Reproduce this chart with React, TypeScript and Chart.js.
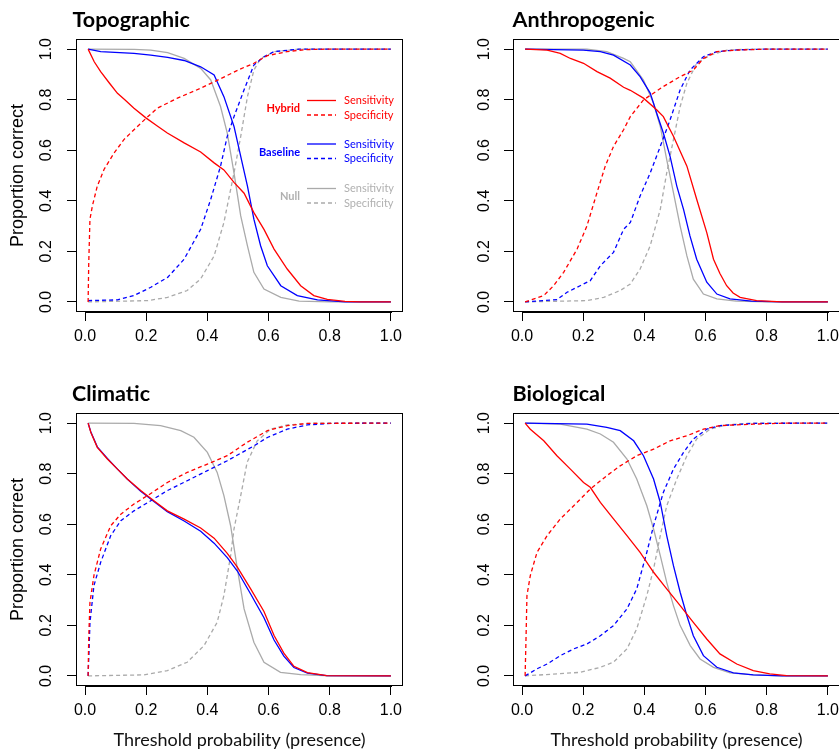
import React, { useEffect, useRef } from "react";
import { Chart, registerables } from "chart.js";

Chart.register(...registerables);

type Pt = [number, number];

// ---------- Text / ticks ----------
const PANEL_TITLES = ["Topographic", "Anthropogenic", "Climatic", "Biological"];
const X_TITLE = "Threshold probability (presence)";
const Y_TITLE = "Proportion correct";
const X_TICKS = [0, 0.2, 0.4, 0.6, 0.8, 1.0];
const Y_TICKS = [0, 0.2, 0.4, 0.6, 0.8, 1.0];
const MODEL_NAMES = ["Hybrid", "Baseline", "Null"];
const MEASURE_NAMES = ["Sensitivity", "Specificity"];

// ---------- Data: [threshold, proportion correct] ----------
const topoHybridSens: Pt[] = [[0.01,1.0],[0.03,0.95],[0.051,0.911],[0.08,0.865],[0.106,0.825],[0.13,0.8],[0.16,0.766],[0.2,0.727],[0.235,0.697],[0.269,0.668],[0.324,0.629],[0.378,0.593],[0.422,0.55],[0.454,0.522],[0.487,0.473],[0.52,0.43],[0.552,0.353],[0.585,0.287],[0.618,0.209],[0.661,0.13],[0.705,0.064],[0.748,0.025],[0.792,0.01],[0.85,0.002],[0.9,0.0],[1.0,0.0]];
const topoHybridSpec: Pt[] = [[0.01,0.0],[0.012,0.15],[0.016,0.327],[0.024,0.38],[0.04,0.458],[0.062,0.524],[0.095,0.589],[0.127,0.642],[0.16,0.681],[0.2,0.727],[0.236,0.766],[0.302,0.806],[0.378,0.845],[0.443,0.883],[0.509,0.922],[0.552,0.944],[0.596,0.974],[0.66,0.99],[0.72,0.998],[0.8,1.0],[1.0,1.0]];
const topoBaselineSens: Pt[] = [[0.01,1.0],[0.051,0.99],[0.16,0.983],[0.215,0.976],[0.27,0.967],[0.324,0.955],[0.378,0.93],[0.422,0.898],[0.454,0.812],[0.487,0.694],[0.509,0.576],[0.531,0.458],[0.552,0.327],[0.574,0.222],[0.596,0.143],[0.64,0.064],[0.694,0.025],[0.76,0.008],[0.85,0.0],[1.0,0.0]];
const topoBaselineSpec: Pt[] = [[0.01,0.005],[0.106,0.008],[0.16,0.025],[0.215,0.058],[0.27,0.097],[0.324,0.169],[0.378,0.287],[0.411,0.406],[0.443,0.537],[0.465,0.655],[0.487,0.733],[0.52,0.839],[0.552,0.937],[0.585,0.97],[0.618,0.99],[0.7,1.0],[1.0,1.0]];
const topoNullSens: Pt[] = [[0.01,1.0],[0.16,0.999],[0.215,0.996],[0.27,0.986],[0.324,0.963],[0.378,0.924],[0.411,0.878],[0.443,0.773],[0.465,0.668],[0.487,0.51],[0.509,0.34],[0.531,0.222],[0.552,0.117],[0.585,0.051],[0.64,0.018],[0.7,0.003],[0.8,0.0],[1.0,0.0]];
const topoNullSpec: Pt[] = [[0.01,0.0],[0.204,0.005],[0.27,0.018],[0.334,0.045],[0.378,0.091],[0.422,0.182],[0.454,0.314],[0.487,0.51],[0.509,0.655],[0.531,0.812],[0.552,0.917],[0.574,0.963],[0.62,0.99],[0.7,1.0],[1.0,1.0]];

const anthroHybridSens: Pt[] = [[0.01,1.0],[0.082,0.996],[0.125,0.983],[0.158,0.963],[0.201,0.944],[0.245,0.911],[0.288,0.885],[0.332,0.849],[0.354,0.837],[0.397,0.806],[0.44,0.76],[0.462,0.733],[0.495,0.655],[0.539,0.537],[0.571,0.406],[0.604,0.274],[0.626,0.169],[0.647,0.112],[0.669,0.064],[0.69,0.035],[0.713,0.018],[0.767,0.005],[0.85,0.0],[1.0,0.0]];
const anthroHybridSpec: Pt[] = [[0.01,0.0],[0.071,0.025],[0.103,0.064],[0.136,0.117],[0.18,0.209],[0.212,0.3],[0.245,0.432],[0.272,0.537],[0.299,0.615],[0.332,0.681],[0.354,0.733],[0.397,0.799],[0.462,0.852],[0.517,0.891],[0.56,0.917],[0.593,0.963],[0.637,0.99],[0.702,0.996],[0.8,1.0],[1.0,1.0]];
const anthroBaselineSens: Pt[] = [[0.01,1.0],[0.2,0.996],[0.256,0.99],[0.299,0.976],[0.354,0.937],[0.386,0.891],[0.419,0.826],[0.44,0.747],[0.462,0.668],[0.484,0.576],[0.506,0.458],[0.528,0.366],[0.549,0.261],[0.571,0.169],[0.604,0.078],[0.637,0.031],[0.68,0.012],[0.75,0.003],[0.85,0.0],[1.0,0.0]];
const anthroBaselineSpec: Pt[] = [[0.01,0.0],[0.114,0.009],[0.147,0.038],[0.19,0.064],[0.223,0.084],[0.256,0.143],[0.299,0.196],[0.332,0.287],[0.354,0.314],[0.386,0.419],[0.419,0.51],[0.452,0.615],[0.484,0.72],[0.517,0.839],[0.549,0.917],[0.593,0.97],[0.637,0.99],[0.702,0.997],[0.8,1.0],[1.0,1.0]];
const anthroNullSens: Pt[] = [[0.01,1.0],[0.212,1.0],[0.277,0.99],[0.332,0.963],[0.354,0.95],[0.397,0.878],[0.43,0.786],[0.452,0.694],[0.473,0.563],[0.495,0.432],[0.517,0.3],[0.539,0.182],[0.56,0.09],[0.593,0.031],[0.637,0.012],[0.7,0.003],[0.8,0.0],[1.0,0.0]];
const anthroNullSpec: Pt[] = [[0.01,0.0],[0.212,0.005],[0.267,0.018],[0.321,0.045],[0.354,0.071],[0.386,0.13],[0.419,0.222],[0.452,0.366],[0.473,0.51],[0.495,0.642],[0.517,0.773],[0.539,0.865],[0.571,0.944],[0.615,0.976],[0.669,0.996],[0.75,1.0],[1.0,1.0]];

const climHybridSens: Pt[] = [[0.01,1.0],[0.019,0.963],[0.04,0.904],[0.073,0.858],[0.106,0.818],[0.138,0.779],[0.182,0.733],[0.225,0.693],[0.269,0.653],[0.324,0.62],[0.378,0.585],[0.422,0.545],[0.465,0.485],[0.498,0.43],[0.541,0.345],[0.585,0.255],[0.618,0.16],[0.65,0.09],[0.683,0.038],[0.727,0.013],[0.79,0.001],[1.0,0.0]];
const climHybridSpec: Pt[] = [[0.01,0.0],[0.012,0.15],[0.016,0.29],[0.029,0.397],[0.051,0.502],[0.084,0.594],[0.117,0.64],[0.16,0.68],[0.204,0.713],[0.269,0.765],[0.334,0.805],[0.4,0.838],[0.465,0.871],[0.53,0.924],[0.596,0.97],[0.661,0.99],[0.727,0.999],[1.0,1.0]];
const climBaselineSens: Pt[] = [[0.01,1.0],[0.019,0.965],[0.04,0.906],[0.073,0.86],[0.106,0.818],[0.138,0.779],[0.182,0.73],[0.225,0.69],[0.269,0.65],[0.324,0.613],[0.378,0.572],[0.422,0.525],[0.465,0.468],[0.498,0.415],[0.541,0.325],[0.585,0.23],[0.618,0.142],[0.65,0.078],[0.683,0.033],[0.727,0.011],[0.79,0.001],[1.0,0.0]];
const climBaselineSpec: Pt[] = [[0.01,0.0],[0.013,0.1],[0.016,0.21],[0.029,0.357],[0.051,0.449],[0.084,0.555],[0.117,0.614],[0.16,0.653],[0.215,0.693],[0.269,0.733],[0.334,0.772],[0.4,0.812],[0.465,0.851],[0.552,0.91],[0.596,0.943],[0.661,0.976],[0.727,0.993],[0.81,0.999],[1.0,1.0]];
const climNullSens: Pt[] = [[0.01,1.0],[0.16,0.999],[0.247,0.99],[0.313,0.97],[0.356,0.944],[0.4,0.884],[0.432,0.805],[0.454,0.713],[0.476,0.594],[0.498,0.423],[0.52,0.265],[0.552,0.133],[0.585,0.054],[0.639,0.014],[0.705,0.005],[0.8,0.0],[1.0,0.0]];
const climNullSpec: Pt[] = [[0.01,0.0],[0.193,0.004],[0.269,0.021],[0.334,0.054],[0.389,0.12],[0.432,0.212],[0.454,0.318],[0.476,0.476],[0.487,0.581],[0.509,0.713],[0.53,0.845],[0.563,0.93],[0.607,0.976],[0.661,0.993],[0.75,1.0],[1.0,1.0]];

const bioHybridSens: Pt[] = [[0.01,1.0],[0.027,0.976],[0.071,0.93],[0.114,0.871],[0.158,0.818],[0.201,0.765],[0.223,0.746],[0.256,0.686],[0.299,0.621],[0.343,0.555],[0.386,0.489],[0.43,0.41],[0.473,0.344],[0.517,0.278],[0.56,0.212],[0.604,0.146],[0.647,0.087],[0.702,0.047],[0.756,0.021],[0.81,0.008],[0.865,0.001],[1.0,0.0]];
const bioHybridSpec: Pt[] = [[0.01,0.0],[0.013,0.15],[0.016,0.318],[0.027,0.397],[0.049,0.489],[0.082,0.555],[0.125,0.621],[0.169,0.673],[0.223,0.739],[0.277,0.792],[0.321,0.831],[0.375,0.871],[0.43,0.897],[0.484,0.93],[0.539,0.95],[0.593,0.976],[0.647,0.99],[0.756,0.996],[0.865,1.0],[1.0,1.0]];
const bioBaselineSens: Pt[] = [[0.01,1.0],[0.212,0.996],[0.277,0.983],[0.321,0.97],[0.365,0.93],[0.397,0.871],[0.43,0.779],[0.452,0.686],[0.473,0.555],[0.495,0.436],[0.517,0.331],[0.539,0.238],[0.56,0.159],[0.593,0.08],[0.637,0.034],[0.691,0.012],[0.756,0.004],[0.85,0.0],[1.0,0.0]];
const bioBaselineSpec: Pt[] = [[0.01,0.0],[0.049,0.028],[0.082,0.047],[0.125,0.08],[0.169,0.107],[0.212,0.126],[0.256,0.159],[0.299,0.199],[0.343,0.265],[0.375,0.344],[0.408,0.489],[0.43,0.594],[0.462,0.726],[0.495,0.818],[0.528,0.884],[0.56,0.937],[0.604,0.976],[0.647,0.99],[0.756,0.999],[1.0,1.0]];
const bioNullSens: Pt[] = [[0.01,1.0],[0.125,0.996],[0.212,0.976],[0.256,0.957],[0.299,0.924],[0.343,0.858],[0.375,0.779],[0.408,0.673],[0.43,0.581],[0.452,0.476],[0.473,0.37],[0.495,0.278],[0.517,0.199],[0.55,0.12],[0.582,0.067],[0.626,0.034],[0.68,0.012],[0.756,0.004],[0.85,0.0],[1.0,0.0]];
const bioNullSpec: Pt[] = [[0.01,0.0],[0.19,0.014],[0.256,0.034],[0.299,0.054],[0.343,0.107],[0.375,0.186],[0.408,0.318],[0.43,0.423],[0.452,0.555],[0.473,0.673],[0.506,0.779],[0.539,0.871],[0.571,0.937],[0.615,0.976],[0.669,0.993],[0.75,1.0],[1.0,1.0]];

// ---------- Styles ----------
const X_MIN = -0.0296;
const X_MAX = 1.0396;
const Y_MIN = -0.04;
const Y_MAX = 1.04;
const MODEL_COLORS = ["#ff0000", "#0000ff", "#aaaaaa"];
const LEGEND_TEXT_COLORS = ["#ff0000", "#0000ff", "#b0b0b0"];
const TICK_FONT = "'Liberation Sans', Arial, Helvetica, sans-serif";
const LABEL_FONT = "Lato, 'Open Sans', sans-serif";

type PanelCfg = {
  title: string;
  series: Pt[][]; // hybrid sens, hybrid spec, baseline sens, baseline spec, null sens, null spec
  left: number;
  top: number;
  width: number;
  height: number;
  padTop: number;
  padRight: number;
  yAxisW: number;
  yTickPad: number;
  showXTitle: boolean;
  showYTitle: boolean;
  showLegend: boolean;
  titleDx: number;
};

const PANELS: PanelCfg[] = [
  {
    title: PANEL_TITLES[0],
    series: [topoHybridSens, topoHybridSpec, topoBaselineSens, topoBaselineSpec, topoNullSens, topoNullSpec],
    left: 0, top: 0, width: 420, height: 370, padTop: 39, padRight: 17, yAxisW: 76, yTickPad: 9,
    showXTitle: false, showYTitle: true, showLegend: true, titleDx: -3.5,
  },
  {
    title: PANEL_TITLES[1],
    series: [anthroHybridSens, anthroHybridSpec, anthroBaselineSens, anthroBaselineSpec, anthroNullSens, anthroNullSpec],
    left: 420, top: 0, width: 420, height: 370, padTop: 39, padRight: 0, yAxisW: 93, yTickPad: 8,
    showXTitle: false, showYTitle: false, showLegend: false, titleDx: -0.5,
  },
  {
    title: PANEL_TITLES[2],
    series: [climHybridSens, climHybridSpec, climBaselineSens, climBaselineSpec, climNullSens, climNullSpec],
    left: 0, top: 370, width: 420, height: 381, padTop: 43, padRight: 17, yAxisW: 76, yTickPad: 9,
    showXTitle: true, showYTitle: true, showLegend: false, titleDx: -4,
  },
  {
    title: PANEL_TITLES[3],
    series: [bioHybridSens, bioHybridSpec, bioBaselineSens, bioBaselineSpec, bioNullSens, bioNullSpec],
    left: 420, top: 370, width: 420, height: 381, padTop: 43, padRight: 0, yAxisW: 93, yTickPad: 8,
    showXTitle: true, showYTitle: false, showLegend: false, titleDx: -0.5,
  },
];

const PLOT_H = 273;
const DASH = [4, 3];

function framePlugin(cfg: PanelCfg) {
  return {
    id: "frameAndLegend",
    afterDraw(chart: any) {
      const { ctx, chartArea: a, scales } = chart;
      ctx.save();
      // box
      ctx.strokeStyle = "#000";
      ctx.lineWidth = 1;
      const l = Math.round(a.left) + 0.5;
      const t = Math.round(a.top) + 0.5;
      const r = Math.round(a.right) - 0.5;
      const b = Math.round(a.bottom) - 0.5;
      ctx.strokeRect(l, t, r - l, b - t);
      // x axis line between first and last tick
      const x0 = scales.x.getPixelForValue(X_TICKS[0]);
      const x1 = scales.x.getPixelForValue(X_TICKS[X_TICKS.length - 1]);
      ctx.lineWidth = 2;
      ctx.beginPath();
      ctx.moveTo(Math.round(x0), b + 0.5);
      ctx.lineTo(Math.round(x1) + 1, b + 0.5);
      ctx.stroke();
      // title
      ctx.fillStyle = "#000";
      ctx.font = `bold 21.5px ${LABEL_FONT}`;
      ctx.textAlign = "left";
      ctx.textBaseline = "alphabetic";
      ctx.fillText(cfg.title, a.left + cfg.titleDx, a.top - 12);
      // legend
      if (cfg.showLegend) {
        const groupTops = [61.5, 105, 149.5];
        const rowGap = 14.5;
        MODEL_NAMES.forEach((name, gi) => {
          const y1 = a.top + groupTops[gi];
          const y2 = y1 + rowGap;
          ctx.font = `bold 11px ${LABEL_FONT}`;
          ctx.fillStyle = LEGEND_TEXT_COLORS[gi];
          ctx.textAlign = "right";
          ctx.textBaseline = "middle";
          ctx.fillText(name, a.right - 103, (y1 + y2) / 2 + 1);
          [y1, y2].forEach((yy, mi) => {
            ctx.strokeStyle = MODEL_COLORS[gi];
            ctx.lineWidth = 1.3;
            ctx.setLineDash(mi === 0 ? [] : DASH);
            ctx.beginPath();
            ctx.moveTo(a.right - 96, yy);
            ctx.lineTo(a.right - 67, yy);
            ctx.stroke();
            ctx.setLineDash([]);
            ctx.font = `11px ${LABEL_FONT}`;
            ctx.textAlign = "left";
            ctx.fillStyle = LEGEND_TEXT_COLORS[gi];
            ctx.fillText(MEASURE_NAMES[mi], a.right - 59, yy);
          });
        });
      }
      ctx.restore();
    },
  };
}

function Panel({ cfg }: { cfg: PanelCfg }) {
  const ref = useRef<HTMLCanvasElement>(null);
  useEffect(() => {
    const canvas = ref.current;
    if (!canvas) return;
    const datasets = cfg.series.map((pts, i) => ({
      label: `${MODEL_NAMES[Math.floor(i / 2)]} ${MEASURE_NAMES[i % 2]}`,
      data: pts.map(([x, y]) => ({ x, y })),
      borderColor: MODEL_COLORS[Math.floor(i / 2)],
      borderWidth: 1.3,
      borderDash: i % 2 === 1 ? DASH : [],
      pointRadius: 0,
      fill: false,
      tension: 0,
    }));
    const xAxisH = cfg.height - cfg.padTop - PLOT_H;
    const chart = new Chart(canvas, {
      type: "line",
      data: { datasets },
      options: {
        responsive: false,
        animation: false,
        events: [],
        layout: { padding: { left: 0, top: cfg.padTop, right: cfg.padRight, bottom: 0 } },
        plugins: {
          legend: { display: false },
          tooltip: { enabled: false },
          title: { display: false },
        },
        scales: {
          x: {
            type: "linear",
            min: X_MIN,
            max: X_MAX,
            afterBuildTicks: (s: any) => {
              s.ticks = X_TICKS.map((v) => ({ value: v }));
            },
            afterFit: (s: any) => {
              s.height = xAxisH;
              s.paddingLeft = 0;
              s.paddingRight = 0;
            },
            border: { display: false },
            grid: { drawOnChartArea: false, drawTicks: true, tickLength: 9, color: "#000", lineWidth: 1 },
            ticks: {
              color: "#000",
              font: { family: TICK_FONT, size: 16 },
              padding: 6,
              autoSkip: false,
              maxRotation: 0,
              minRotation: 0,
              callback: (v: any) => Number(v).toFixed(1),
            },
            title: {
              display: cfg.showXTitle,
              text: X_TITLE,
              color: "#111",
              font: { family: LABEL_FONT, size: 18 },
              padding: { top: 0, bottom: 0.5 },
            },
          },
          y: {
            type: "linear",
            min: Y_MIN,
            max: Y_MAX,
            afterBuildTicks: (s: any) => {
              s.ticks = Y_TICKS.map((v) => ({ value: v }));
            },
            afterFit: (s: any) => {
              s.width = cfg.yAxisW;
              s.paddingTop = 0;
              s.paddingBottom = 0;
            },
            border: { display: false },
            grid: { drawOnChartArea: false, drawTicks: true, tickLength: 9, color: "#000", lineWidth: 1 },
            ticks: {
              color: "#000",
              font: { family: TICK_FONT, size: 16 },
              padding: cfg.yTickPad,
              autoSkip: false,
              minRotation: 90,
              maxRotation: 90,
              crossAlign: "center",
              callback: (v: any) => Number(v).toFixed(1),
            },
            title: {
              display: cfg.showYTitle,
              text: Y_TITLE,
              color: "#000",
              font: { family: TICK_FONT, size: 18 },
              padding: { top: 7.5, bottom: 0 },
            },
          },
        },
      } as any,
      plugins: [framePlugin(cfg)],
    });
    return () => chart.destroy();
  }, [cfg]);
  return (
    <div style={{ position: "absolute", left: cfg.left, top: cfg.top, width: cfg.width, height: cfg.height }}>
      <canvas ref={ref} width={cfg.width} height={cfg.height} style={{ display: "block", width: cfg.width, height: cfg.height }} />
    </div>
  );
}

export default function App() {
  return (
    <div
      style={{
        position: "absolute",
        left: 0,
        top: 0,
        width: 839,
        height: 751,
        overflow: "hidden",
        background: "#fff",
      }}
    >
      {PANELS.map((p) => (
        <Panel key={p.title} cfg={p} />
      ))}
    </div>
  );
}
